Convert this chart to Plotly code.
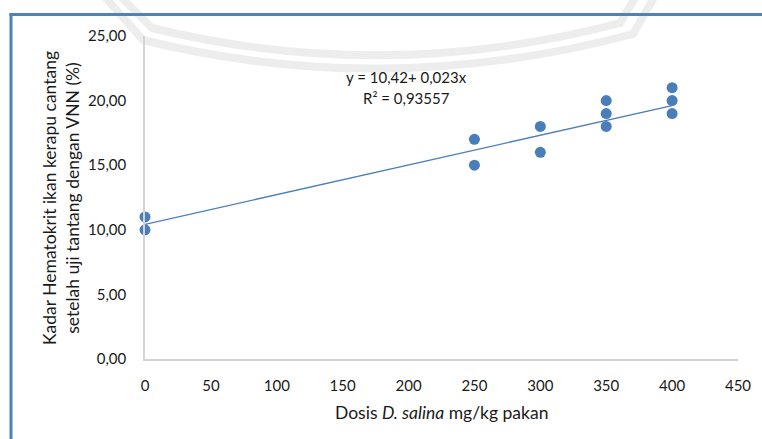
import plotly.graph_objects as go

# Observed haematocrit (%) per D. salina dose (mg/kg feed)
dose = [0, 0, 250, 250, 300, 300, 350, 350, 350, 400, 400, 400]
hematocrit = [11, 10, 17, 15, 18, 16, 20, 19, 18, 21, 20, 19]

# Linear trendline reported on the chart
intercept = 10.42
slope = 0.023
r_squared = "0,93557"
trend_x = [0, 400]

x_ticks = [0, 50, 100, 150, 200, 250, 300, 350, 400, 450]
y_ticks = [0, 5, 10, 15, 20, 25]
y_tick_text = ["0,00", "5,00", "10,00", "15,00", "20,00", "25,00"]

W, H = 762, 439
ML, MR, MT, MB = 145, 24, 36, 80
PW, PH = W - ML - MR, H - MT - MB


def px(x):
    return (x - ML) / PW


def py(y):
    return (H - MB - y) / PH


BLUE = "#4A7EBB"
FONT = "Lato"
TEXT = "#1a1a1a"

fig = go.Figure()

fig.add_trace(go.Scatter(
    x=trend_x,
    y=[intercept + slope * v for v in trend_x],
    mode="lines",
    line=dict(color=BLUE, width=1.3),
    hoverinfo="skip",
    cliponaxis=False,
))

fig.add_trace(go.Scatter(
    x=dose,
    y=hematocrit,
    mode="markers",
    marker=dict(color=BLUE, size=11, line=dict(width=0)),
    cliponaxis=False,
))

shapes = []

# faint background emblem strokes
def emblem_path(pts, ctrl):
    (x0, y0), (x1, y1), (x2, y2), (x3, y3) = pts
    cx, cy = ctrl
    return (f"M {px(x0)},{py(y0)} L {px(x1)},{py(y1)} "
            f"Q {px(cx)},{py(cy)} {px(x2)},{py(y2)} L {px(x3)},{py(y3)}")


for pts, ctrl in [
    (((120, -4), (152, 28), (620, 23), (636, -4)), (385, 85)),
    (((104, -4), (143, 40), (633, 34), (655, -4)), (385, 100)),
]:
    shapes.append(dict(
        type="path", xref="paper", yref="paper",
        path=emblem_path(pts, ctrl),
        line=dict(color="rgba(0,0,0,0.07)", width=8),
        layer="below",
    ))

# blue frame around the chart area
shapes.append(dict(type="line", xref="paper", yref="paper",
                   x0=px(11), x1=px(11), y0=py(13), y1=py(460),
                   line=dict(color="#4F81BD", width=3)))
shapes.append(dict(type="line", xref="paper", yref="paper",
                   x0=px(9.5), x1=px(780), y0=py(14.5), y1=py(14.5),
                   line=dict(color="#4F81BD", width=3)))

annotations = [
    dict(text="y = 10,42+ 0,023x", x=px(406), y=py(77), xref="paper", yref="paper",
         showarrow=False, xanchor="center", yanchor="middle",
         font=dict(family=FONT, size=15, color=TEXT)),
    dict(text=f"R² = {r_squared}", x=px(406), y=py(98), xref="paper", yref="paper",
         showarrow=False, xanchor="center", yanchor="middle",
         font=dict(family=FONT, size=15, color=TEXT)),
    dict(text="Kadar Hematokrit ikan kerapu cantang<br>setelah uji tantang dengan VNN (%)",
         x=px(61), y=py(198), xref="paper", yref="paper", textangle=-90,
         showarrow=False, xanchor="center", yanchor="middle",
         font=dict(family=FONT, size=17.5, color=TEXT)),
    dict(text="Dosis <i>D. salina</i> mg/kg pakan", x=px(441), y=py(412),
         xref="paper", yref="paper", showarrow=False,
         xanchor="center", yanchor="middle",
         font=dict(family=FONT, size=17.5, color=TEXT)),
]

fig.update_layout(
    width=W, height=H,
    margin=dict(l=ML, r=MR, t=MT, b=MB),
    paper_bgcolor="white", plot_bgcolor="white",
    showlegend=False,
    shapes=shapes,
    annotations=annotations,
    font=dict(family=FONT, size=15, color=TEXT),
    xaxis=dict(
        range=[0, 450], tickvals=x_ticks, ticktext=[str(v) for v in x_ticks],
        showgrid=False, zeroline=False, showline=True,
        linecolor="#D4D4D4", linewidth=1.5, ticks="", ticklabelstandoff=12,
        tickfont=dict(family=FONT, size=15, color=TEXT),
    ),
    yaxis=dict(
        range=[0, 25], tickvals=y_ticks, ticktext=y_tick_text,
        showgrid=False, zeroline=False, showline=True,
        linecolor="#D4D4D4", linewidth=1.5, ticks="", ticklabelstandoff=14,
        tickfont=dict(family=FONT, size=15, color=TEXT),
    ),
)

fig.write_html("out.html")
